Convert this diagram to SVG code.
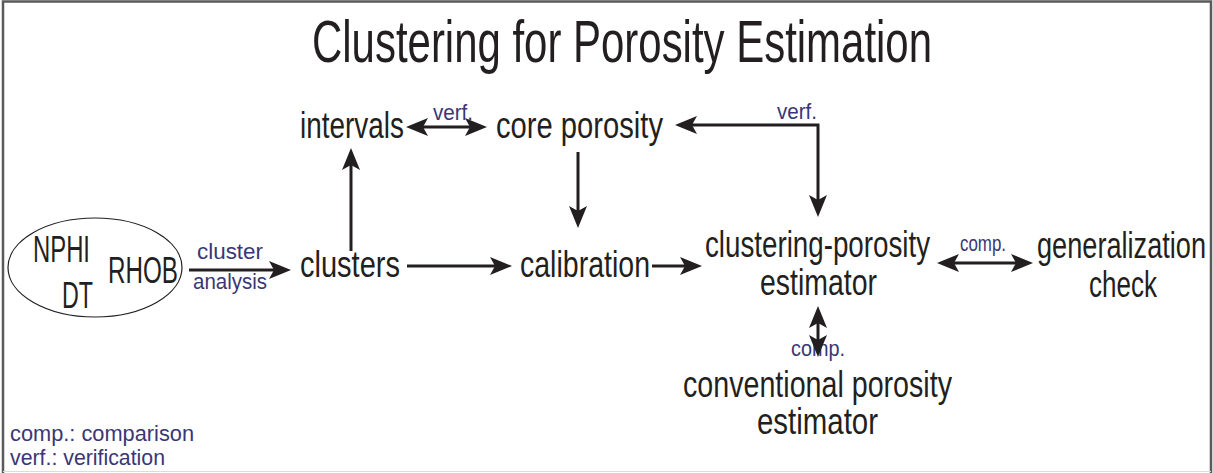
<svg xmlns="http://www.w3.org/2000/svg" width="1213" height="473" viewBox="0 0 1213 473">
<defs>
<style>
.t{font-family:"Liberation Sans",Arial,sans-serif;fill:#231f20;font-size:36px}
.ti{font-family:"Liberation Sans",Arial,sans-serif;fill:#231f20;font-size:60px}
.l{font-family:"Liberation Sans",Arial,sans-serif;fill:#3a3775;font-size:22px}
.c{fill:none;stroke:#231f20;stroke-width:3}
</style>
<marker id="ah" markerUnits="userSpaceOnUse" markerWidth="24" markerHeight="18" refX="15" refY="9" orient="auto-start-reverse" overflow="visible">
<path d="M0,0 L22,9 L0,18 L5,9 z" fill="#231f20"/>
</marker>
</defs>
<rect x="0" y="0" width="1213" height="473" fill="#fff"/>
<path d="M3,473 V1.5 H1211 V473" fill="none" stroke="#5a5a5a" stroke-width="2.5"/>
<path d="M3,471.5 H1211" fill="none" stroke="#dcdcdc" stroke-width="1"/>

<text class="ti" x="312" y="62" textLength="620" lengthAdjust="spacingAndGlyphs">Clustering for Porosity Estimation</text>

<g id="inputs">
<ellipse cx="95" cy="267.5" rx="87" ry="49.5" fill="none" stroke="#231f20" stroke-width="1.2"/>
<text class="t" x="33" y="262" textLength="57" lengthAdjust="spacingAndGlyphs">NPHI</text>
<text class="t" x="108" y="283" textLength="70" lengthAdjust="spacingAndGlyphs">RHOB</text>
<text class="t" x="62" y="308" textLength="31" lengthAdjust="spacingAndGlyphs">DT</text>
</g>
<g id="clusters"><text class="t" x="300" y="277" textLength="100" lengthAdjust="spacingAndGlyphs">clusters</text></g>
<g id="intervals"><text class="t" x="300" y="138" textLength="104" lengthAdjust="spacingAndGlyphs">intervals</text></g>
<g id="core-porosity"><text class="t" x="496" y="138" textLength="167" lengthAdjust="spacingAndGlyphs">core porosity</text></g>
<g id="calibration"><text class="t" x="520" y="277" textLength="130" lengthAdjust="spacingAndGlyphs">calibration</text></g>
<g id="clustering-estimator">
<text class="t" x="705" y="257" textLength="225" lengthAdjust="spacingAndGlyphs">clustering-porosity</text>
<text class="t" x="760" y="295" textLength="117" lengthAdjust="spacingAndGlyphs">estimator</text>
</g>
<g id="generalization-check">
<text class="t" x="1037" y="258" textLength="169" lengthAdjust="spacingAndGlyphs">generalization</text>
<text class="t" x="1089" y="297" textLength="68" lengthAdjust="spacingAndGlyphs">check</text>
</g>
<g id="conventional-estimator">
<text class="t" x="683" y="397" textLength="269" lengthAdjust="spacingAndGlyphs">conventional porosity</text>
<text class="t" x="757" y="434" textLength="121" lengthAdjust="spacingAndGlyphs">estimator</text>
</g>

<g id="labels">
<text class="l" x="197" y="259" textLength="66" lengthAdjust="spacingAndGlyphs">cluster</text>
<text class="l" x="193" y="289" textLength="74" lengthAdjust="spacingAndGlyphs">analysis</text>
<text class="l" x="433" y="120" textLength="40" lengthAdjust="spacingAndGlyphs">verf.</text>
<text class="l" x="777" y="119" textLength="40" lengthAdjust="spacingAndGlyphs">verf.</text>
<text class="l" x="960" y="251" textLength="46" lengthAdjust="spacingAndGlyphs">comp.</text>
<text class="l" x="791" y="356" textLength="54" lengthAdjust="spacingAndGlyphs">comp.</text>
</g>

<g id="connectors">
<line class="c" x1="189" y1="270" x2="284" y2="270" marker-end="url(#ah)"/>
<line class="c" x1="351" y1="251" x2="351" y2="155" marker-end="url(#ah)"/>
<line class="c" x1="413" y1="127" x2="480" y2="127" marker-start="url(#ah)" marker-end="url(#ah)"/>
<line class="c" x1="578" y1="152" x2="578" y2="221" marker-end="url(#ah)"/>
<line class="c" x1="407" y1="266" x2="505" y2="266" marker-end="url(#ah)"/>
<line class="c" x1="652" y1="266" x2="695" y2="266" marker-end="url(#ah)"/>
<path class="c" d="M682,125 H818 V210" marker-start="url(#ah)" marker-end="url(#ah)"/>
<line class="c" x1="944" y1="263" x2="1026" y2="263" marker-start="url(#ah)" marker-end="url(#ah)"/>
<line class="c" x1="818" y1="313" x2="818" y2="350" marker-start="url(#ah)" marker-end="url(#ah)"/>
</g>

<g id="legend">
<text class="l" x="10" y="441" textLength="184" lengthAdjust="spacingAndGlyphs">comp.: comparison</text>
<text class="l" x="10" y="465" textLength="155" lengthAdjust="spacingAndGlyphs">verf.: verification</text>
</g>
</svg>
